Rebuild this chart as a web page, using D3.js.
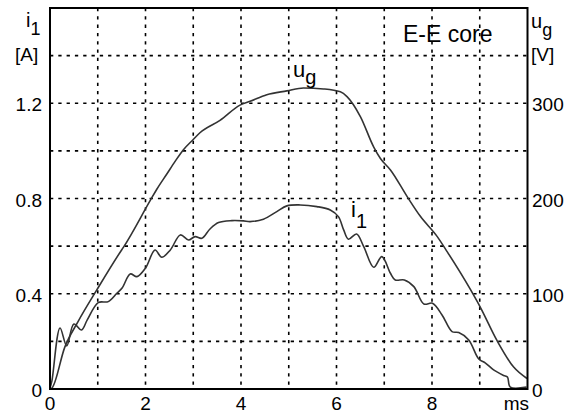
<!DOCTYPE html>
<html>
<head>
<meta charset="utf-8">
<script src="https://cdn.jsdelivr.net/npm/d3@7"></script>
<style>
  body { margin: 0; background: #fff; }
  text { font-family: "Liberation Sans", Arial, sans-serif; fill: #000; }
</style>
</head>
<body>
<svg id="chart"></svg>
<script>
// time axis [ms]
const timeTicks = [0, 2, 4, 6, 8];
const currentTicks = [0, 0.4, 0.8, 1.2];
const voltageTicks = [0, 100, 200, 300];

// u_g [V]
const ugTime = [0, 0.04, 0.31, 0.59, 0.98, 1.5, 1.54, 2.1, 2.24, 2.45, 2.62, 2.79, 3.0, 3.14, 3.56, 3.98, 4.19, 4.54, 4.96, 5.31, 5.73, 6.08, 6.22, 6.5, 6.78, 6.92, 7.13, 7.48, 7.76, 8.11, 8.32, 8.81, 9.01, 9.36, 9.71, 9.99];
const ugVolt = [0, 1, 44, 71, 104, 146, 149, 198, 210, 226, 239, 251, 262, 269, 282, 298, 302, 309, 313, 316, 315, 312, 307, 286, 254, 242, 230, 202, 181, 160, 144, 104, 86, 51, 23, 11];

// i_1 [A]
const i1Time = [0, 0.04, 0.21, 0.35, 0.5, 0.66, 0.78, 1.01, 1.22, 1.4, 1.51, 1.68, 1.82, 2.0, 2.2, 2.34, 2.52, 2.73, 2.9, 3.04, 3.18, 3.35, 3.53, 3.81, 4.05, 4.19, 4.47, 4.75, 4.96, 5.24, 5.59, 5.87, 6.04, 6.15, 6.25, 6.42, 6.57, 6.78, 6.95, 7.13, 7.23, 7.42, 7.62, 7.83, 8.01, 8.21, 8.42, 8.56, 8.77, 8.98, 9.12, 9.29, 9.5, 9.58, 9.64, 9.98];
const i1Amp = [0.004, 0.034, 0.256, 0.181, 0.273, 0.248, 0.29, 0.363, 0.367, 0.402, 0.424, 0.483, 0.472, 0.508, 0.584, 0.553, 0.584, 0.647, 0.626, 0.64, 0.633, 0.672, 0.699, 0.707, 0.706, 0.703, 0.713, 0.745, 0.769, 0.773, 0.766, 0.752, 0.724, 0.668, 0.629, 0.651, 0.598, 0.511, 0.556, 0.486, 0.458, 0.458, 0.43, 0.357, 0.36, 0.311, 0.241, 0.237, 0.206, 0.126, 0.109, 0.08, 0.057, 0.05, 0.008, 0.008];

const width = 575, height = 415;
const plotL = 50, plotR = 527.5, plotT = 8, plotB = 389;

const svg = d3.select("#chart").attr("width", width).attr("height", height);

const x = d3.scaleLinear().domain([0, 10]).range([plotL, plotR]);
const yI = d3.scaleLinear().domain([0, 1.6]).range([plotB, plotT]);
const yU = d3.scaleLinear().domain([0, 400]).range([plotB, plotT]);

// dashed grid
const grid = svg.append("g")
  .attr("stroke", "#000")
  .attr("stroke-width", 1.6)
  .attr("stroke-dasharray", "3.3,5");

grid.selectAll(".vg")
  .data(d3.range(1, 10))
  .join("line")
  .attr("x1", d => x(d)).attr("x2", d => x(d))
  .attr("y1", plotT).attr("y2", plotB);

grid.selectAll(".hg")
  .data(d3.range(1, 8).map(d => d * 0.2))
  .join("line")
  .attr("x1", plotL).attr("x2", plotR)
  .attr("y1", d => yI(d)).attr("y2", d => yI(d));

// curves
const line = d3.line().curve(d3.curveMonotoneX);

svg.append("path")
  .attr("d", line(ugTime.map((t, i) => [x(t), yU(ugVolt[i])])))
  .attr("fill", "none")
  .attr("stroke", "#333")
  .attr("stroke-width", 1.6);

svg.append("path")
  .attr("d", d3.line().curve(d3.curveCatmullRom)(i1Time.map((t, i) => [x(t), yI(i1Amp[i])])))
  .attr("fill", "none")
  .attr("stroke", "#333")
  .attr("stroke-width", 1.6);

// frame
svg.append("rect")
  .attr("x", plotL).attr("y", plotT)
  .attr("width", plotR - plotL).attr("height", plotB - plotT)
  .attr("fill", "none")
  .attr("stroke", "#000")
  .attr("stroke-width", 2);

// tick labels
const fs = "19px";

svg.append("g").selectAll("text")
  .data(timeTicks)
  .join("text")
  .attr("x", d => x(d))
  .attr("y", 410)
  .attr("text-anchor", "middle")
  .style("font-size", fs)
  .text(d => d);

svg.append("text")
  .attr("x", 529).attr("y", 410)
  .attr("text-anchor", "end")
  .style("font-size", fs)
  .text("ms");

svg.append("g").selectAll("text")
  .data(currentTicks)
  .join("text")
  .attr("x", 42)
  .attr("y", d => yI(d) + 8)
  .attr("text-anchor", "end")
  .style("font-size", fs)
  .text(d => d === 0 ? "0" : d3.format(".1f")(d));

svg.append("g").selectAll("text")
  .data(voltageTicks)
  .join("text")
  .attr("x", 532)
  .attr("y", d => yU(d) + 8)
  .attr("text-anchor", "start")
  .style("font-size", fs)
  .text(d => d);

// axis names
function subLabel(xPos, yPos, main, sub, size, subSize, dx, dy) {
  const t = svg.append("text")
    .attr("x", xPos).attr("y", yPos)
    .style("font-size", size + "px");
  t.append("tspan").text(main);
  t.append("tspan")
    .attr("dx", dx).attr("dy", dy)
    .style("font-size", subSize + "px")
    .text(sub);
}

subLabel(26, 27, "i", "1", 20, 18, 0, 8);
svg.append("text").attr("x", 15).attr("y", 61).style("font-size", fs).text("[A]");

subLabel(531, 28, "u", "g", 20, 18, 0, 8);
svg.append("text").attr("x", 531).attr("y", 61).style("font-size", fs).text("[V]");

subLabel(293, 77, "u", "g", 22, 20, 0, 7);
subLabel(351, 217, "i", "1", 22, 20, 0, 11);

svg.append("text")
  .attr("x", 403).attr("y", 42)
  .style("font-size", "23px")
  .text("E-E core");
</script>
</body>
</html>
